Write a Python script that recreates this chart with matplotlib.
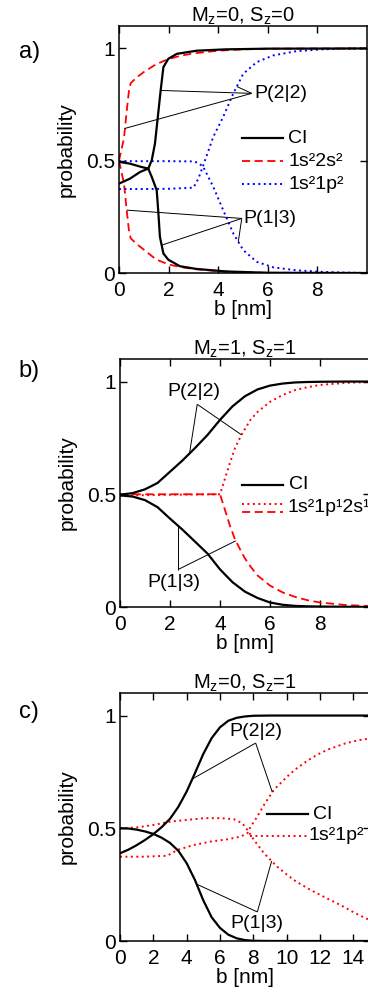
import numpy as np
import matplotlib
matplotlib.use("Agg")
import matplotlib.pyplot as plt

plt.rcParams['font.family'] = ['Liberation Sans', 'DejaVu Sans']
plt.rcParams['font.size'] = 15
plt.rcParams['mathtext.default'] = 'regular'

# ---------------- Panel a: Mz=0, Sz=0 ----------------
a_title = "M$_z$=0, S$_z$=0"
a_ci_up_x = [0, 0.44, 0.85, 1.18, 1.32, 1.45, 1.58, 1.68, 1.79, 1.99, 2.33, 3.13, 4.3, 6.0, 10.0]
a_ci_up_y = [0.398, 0.42, 0.45, 0.465, 0.502, 0.576, 0.71, 0.813, 0.917, 0.954, 0.976, 0.99, 0.996, 0.999, 1.0]
a_ci_lo_x = [0, 0.44, 0.91, 1.18, 1.32, 1.52, 1.58, 1.65, 1.79, 1.99, 2.46, 3.13, 4.3, 6.0, 10.0]
a_ci_lo_y = [0.495, 0.487, 0.472, 0.465, 0.428, 0.369, 0.28, 0.161, 0.087, 0.059, 0.03, 0.018, 0.007, 0.001, 0.0]
a_s2_up_x = [0, 0.1, 0.2, 0.3, 0.4, 0.47, 0.7, 1.0, 1.5, 2.0, 2.5, 3.0, 4.0, 5.0, 6.0, 10.0]
a_s2_up_y = [0.5, 0.55, 0.6, 0.71, 0.81, 0.845, 0.87, 0.895, 0.93, 0.953, 0.968, 0.978, 0.99, 0.996, 0.999, 1.0]
a_s2_lo_x = [0, 0.1, 0.2, 0.3, 0.4, 0.47, 0.7, 1.0, 1.5, 2.0, 2.5, 3.0, 4.0, 5.0, 6.0, 10.0]
a_s2_lo_y = [0.5, 0.45, 0.4, 0.29, 0.19, 0.155, 0.13, 0.104, 0.06, 0.038, 0.026, 0.018, 0.008, 0.003, 0.001, 0.0]
a_p2_up_x = [0, 1.0, 2.0, 3.0, 3.2, 3.4, 3.8, 4.2, 4.61, 5.01, 5.55, 6.22, 7.16, 8.2, 9.0, 10.0]
a_p2_up_y = [0.374, 0.374, 0.375, 0.38, 0.42, 0.48, 0.606, 0.695, 0.8, 0.887, 0.939, 0.969, 0.988, 0.996, 0.999, 1.0]
a_p2_lo_x = [0, 1.0, 2.0, 3.0, 3.2, 3.4, 3.8, 4.2, 4.61, 5.01, 5.55, 6.22, 7.16, 8.2, 9.0, 10.0]
a_p2_lo_y = [0.498, 0.498, 0.498, 0.497, 0.49, 0.472, 0.384, 0.28, 0.176, 0.102, 0.05, 0.025, 0.012, 0.005, 0.002, 0.0]
a_ann22 = (5.35, 0.80)
a_ann22_targets = [("ci_up", 1.68), ("s2_up", 0.24), ("p2_up", 4.75)]
a_ann13 = (4.95, 0.243)
a_ann13_targets = [("s2_lo", 0.31), ("ci_lo", 1.72), ("p2_lo", 4.81)]

# ---------------- Panel b: Mz=1, Sz=1 ----------------
b_title = "M$_z$=1, S$_z$=1"
b_ci_up_x = [0, 0.5, 1.0, 1.5, 2.0, 2.5, 3.0, 3.5, 4.0, 4.5, 5.0, 5.5, 6.0, 6.5, 7.0, 7.5, 8.0, 9.0, 10.0]
b_ci_up_y = [0.498, 0.505, 0.522, 0.55, 0.6, 0.65, 0.705, 0.763, 0.83, 0.89, 0.935, 0.965, 0.982, 0.991, 0.996, 0.998, 0.999, 1.0, 1.0]
b_ci_lo_x = [0, 0.5, 1.0, 1.5, 2.0, 2.5, 3.0, 3.5, 4.0, 4.5, 5.0, 5.5, 6.0, 6.5, 7.0, 7.5, 8.0, 9.0, 10.0]
b_ci_lo_y = [0.495, 0.49, 0.474, 0.443, 0.392, 0.343, 0.29, 0.237, 0.167, 0.11, 0.068, 0.04, 0.02, 0.01, 0.005, 0.003, 0.002, 0.001, 0.0]
b_dot_x = [0, 1.0, 2.0, 3.0, 4.0, 4.2, 4.4, 4.6, 4.83, 5.0, 5.23, 5.5, 6.0, 6.5, 7.0, 7.5, 8.0, 9.0, 10.0]
b_dot_y = [0.494, 0.496, 0.498, 0.499, 0.5, 0.57, 0.64, 0.705, 0.758, 0.79, 0.832, 0.865, 0.91, 0.94, 0.962, 0.975, 0.985, 0.994, 0.998]
b_dash_x = [0, 1.0, 2.0, 3.0, 4.0, 4.2, 4.4, 4.6, 4.83, 5.0, 5.23, 5.5, 6.0, 6.5, 7.0, 7.5, 8.0, 9.0, 10.0]
b_dash_y = [0.5, 0.5, 0.5, 0.5, 0.5, 0.43, 0.36, 0.30, 0.25, 0.215, 0.178, 0.14, 0.095, 0.065, 0.045, 0.03, 0.02, 0.009, 0.004]
b_ann22 = (3.09, 0.899)
b_ann22_targets = [("ci_up", 2.78), ("dot", 4.86)]
b_ann13 = (2.32, 0.166)
b_ann13_targets = [("ci_lo", 2.32), ("dash", 4.63)]

# ---------------- Panel c: Mz=0, Sz=1 ----------------
c_title = "M$_z$=0, S$_z$=1"
c_ci_up_x = [0, 0.5, 1.0, 1.5, 2.0, 2.5, 3.0, 3.5, 4.0, 4.5, 5.0, 5.5, 6.0, 6.5, 7.0, 7.5, 8.0, 9.0, 15.0]
c_ci_up_y = [0.389, 0.405, 0.425, 0.448, 0.474, 0.505, 0.542, 0.595, 0.663, 0.745, 0.83, 0.9, 0.948, 0.977, 0.99, 0.996, 0.999, 1.0, 1.0]
c_ci_lo_x = [0, 0.5, 1.0, 1.5, 2.0, 2.5, 3.0, 3.5, 4.0, 4.5, 5.0, 5.5, 6.0, 6.5, 7.0, 7.5, 8.0, 9.0, 15.0]
c_ci_lo_y = [0.5, 0.499, 0.494, 0.486, 0.475, 0.458, 0.435, 0.4, 0.345, 0.27, 0.18, 0.105, 0.058, 0.028, 0.012, 0.004, 0.001, 0.0, 0.0]
c_pA_x = [0, 1.04, 2.04, 3.04, 4.04, 5.04, 6.04, 6.84, 7.34, 7.64, 8.04, 8.64, 9.44, 10.0, 10.44, 11.0, 11.44, 12.0, 12.44, 13.0, 13.44, 14.0, 14.24, 15.0]
c_pA_y = [0.5, 0.504, 0.515, 0.53, 0.537, 0.545, 0.545, 0.54, 0.522, 0.493, 0.448, 0.389, 0.329, 0.295, 0.27, 0.245, 0.226, 0.205, 0.188, 0.168, 0.151, 0.128, 0.119, 0.092]
c_pB_x = [0, 1.44, 2.84, 3.44, 4.44, 5.44, 6.44, 7.24, 7.64, 7.84, 8.24, 8.64, 9.24, 10.04, 10.5, 11.04, 11.5, 12.04, 12.5, 13.04, 13.5, 14.04, 14.5, 15.0]
c_pB_y = [0.374, 0.374, 0.378, 0.404, 0.426, 0.441, 0.451, 0.463, 0.478, 0.507, 0.552, 0.604, 0.671, 0.73, 0.76, 0.789, 0.812, 0.834, 0.85, 0.864, 0.876, 0.886, 0.893, 0.898]
c_ann22 = (8.14, 0.878)
c_ann22_targets = [("ci_up", 4.34), ("pB", 9.14)]
c_ann13 = (8.24, 0.129)
c_ann13_targets = [("ci_lo", 4.6), ("pA", 9.1)]

W, H = 368, 996
fig = plt.figure(figsize=(W / 100, H / 100), dpi=100)

FS_TICK = 15
FS_LAB = 15
FS_TITLE = 14.5
FS_LEG = 14
FS_ANN = 14


def make_axes(left_px, top_px, bottom_px, right_px):
    return fig.add_axes([left_px / W, 1 - bottom_px / H,
                         (right_px - left_px) / W, (bottom_px - top_px) / H])


def style(ax, xmax, xticks, title, letter, letter_y):
    ax.set_xlim(0, xmax)
    ax.set_ylim(0, 1.1)
    ax.set_xticks(xticks)
    ax.set_xticklabels([str(t) for t in xticks])
    ax.set_yticks([0, 0.5, 1])
    ax.set_yticklabels(['0', '0.5', '1'])
    ax.tick_params(direction='in', top=True, right=True, length=5, width=1,
                   labelsize=FS_TICK)
    ax.tick_params(axis='x', pad=6)
    ax.tick_params(axis='y', pad=3)
    for s in ax.spines.values():
        s.set_linewidth(1.1)
    ax.set_xlabel('b [nm]', fontsize=FS_LAB, labelpad=0)
    ax.set_ylabel('probability', fontsize=FS_LAB, labelpad=7.5)
    ax.set_title(title, fontsize=FS_TITLE, pad=3)
    ax.text(-0.405, letter_y, letter, transform=ax.transAxes, fontsize=17,
            ha='left', va='center')


def annotate(ax, anchor, targets, curves):
    for name, xt in targets:
        cx, cy = curves[name]
        yt = np.interp(xt, cx, cy)
        ax.plot([anchor[0], xt], [anchor[1], yt], color='black', lw=0.7,
                solid_capstyle='butt')


def legend_line(ax, x0, x1, y, **kw):
    ax.plot([x0, x1], [y, y], transform=ax.transAxes, clip_on=False, **kw)


DASH = dict(color='red', lw=1.3, linestyle=(0, (4.5, 2.5)))
DOT_B = dict(color='blue', lw=1.4, linestyle=(0, (1, 1.8)))
DOT_R = dict(color='red', lw=1.4, linestyle=(0, (1, 1.8)))
CI = dict(color='black', lw=1.6)

# ---- a ----
axa = make_axes(119, 26, 273, 367)
style(axa, 10, [0, 2, 4, 6, 8], a_title, 'a)', 0.895)
axa.plot(a_s2_up_x, a_s2_up_y, **DASH)
axa.plot(a_s2_lo_x, a_s2_lo_y, **DASH)
axa.plot(a_p2_up_x, a_p2_up_y, **DOT_B)
axa.plot(a_p2_lo_x, a_p2_lo_y, **DOT_B)
axa.plot(a_ci_up_x, a_ci_up_y, **CI)
axa.plot(a_ci_lo_x, a_ci_lo_y, **CI)
ca = {"ci_up": (a_ci_up_x, a_ci_up_y), "ci_lo": (a_ci_lo_x, a_ci_lo_y),
      "s2_up": (a_s2_up_x, a_s2_up_y), "s2_lo": (a_s2_lo_x, a_s2_lo_y),
      "p2_up": (a_p2_up_x, a_p2_up_y), "p2_lo": (a_p2_lo_x, a_p2_lo_y)}
annotate(axa, a_ann22, a_ann22_targets, ca)
annotate(axa, a_ann13, a_ann13_targets, ca)
axa.text(a_ann22[0] + 0.1, a_ann22[1], 'P(2|2)', ha='left', va='center', fontsize=FS_ANN)
axa.text(a_ann13[0] + 0.08, a_ann13[1], 'P(1|3)', ha='left', va='center', fontsize=FS_ANN)
lx0, lx1, tx = (242 - 119) / 248, (283 - 119) / 248, (288 - 119) / 248
legend_line(axa, lx0, lx1, 0.601 / 1.1, **CI)
axa.text(tx, 0.601 / 1.1, 'CI', transform=axa.transAxes, ha='left', va='center', fontsize=FS_LEG)
legend_line(axa, lx0, lx1, 0.498 / 1.1, **DASH)
axa.text(tx, 0.498 / 1.1, '1s²2s²', transform=axa.transAxes, ha='left', va='center', fontsize=FS_LEG)
legend_line(axa, lx0, lx1, 0.396 / 1.1, **DOT_B)
axa.text(tx, 0.396 / 1.1, '1s²1p²', transform=axa.transAxes, ha='left', va='center', fontsize=FS_LEG)

# ---- b ----
axb = make_axes(120, 359, 607, 370)
style(axb, 10, [0, 2, 4, 6, 8], b_title, 'b)', 0.95)
axb.plot(b_dot_x, b_dot_y, **DOT_R)
axb.plot(b_dash_x, b_dash_y, **DASH)
axb.plot(b_ci_up_x, b_ci_up_y, **CI)
axb.plot(b_ci_lo_x, b_ci_lo_y, **CI)
cb = {"ci_up": (b_ci_up_x, b_ci_up_y), "ci_lo": (b_ci_lo_x, b_ci_lo_y),
      "dot": (b_dot_x, b_dot_y), "dash": (b_dash_x, b_dash_y)}
annotate(axb, b_ann22, b_ann22_targets, cb)
annotate(axb, b_ann13, b_ann13_targets, cb)
axb.text(b_ann22[0] - 0.15, b_ann22[1] + 0.02, 'P(2|2)', ha='center', va='bottom', fontsize=FS_ANN)
axb.text(b_ann13[0] - 0.15, b_ann13[1] - 0.02, 'P(1|3)', ha='center', va='top', fontsize=FS_ANN)
lx0, lx1, tx = (242 - 120) / 250, (283 - 120) / 250, (289 - 120) / 250
legend_line(axb, lx0, lx1, 0.542 / 1.1, **CI)
axb.text(tx, 0.542 / 1.1, 'CI', transform=axb.transAxes, ha='left', va='center', fontsize=FS_LEG)
legend_line(axb, lx0, lx1, 0.456 / 1.1, **DOT_R)
legend_line(axb, lx0, lx1, 0.423 / 1.1, **DASH)
axb.text((287 - 120) / 250, 0.44 / 1.1, '1s²1p¹2s¹', transform=axb.transAxes, ha='left', va='center', fontsize=FS_LEG)

# ---- c ----
axc = make_axes(120, 693, 941, 370)
style(axc, 15, [0, 2, 4, 6, 8, 10, 12, 14], c_title, 'c)', 0.923)
axc.plot(c_pA_x, c_pA_y, **DOT_R)
axc.plot(c_pB_x, c_pB_y, **DOT_R)
axc.plot(c_ci_up_x, c_ci_up_y, **CI)
axc.plot(c_ci_lo_x, c_ci_lo_y, **CI)
cc = {"ci_up": (c_ci_up_x, c_ci_up_y), "ci_lo": (c_ci_lo_x, c_ci_lo_y),
      "pA": (c_pA_x, c_pA_y), "pB": (c_pB_x, c_pB_y)}
annotate(axc, c_ann22, c_ann22_targets, cc)
annotate(axc, c_ann13, c_ann13_targets, cc)
axc.text(c_ann22[0], c_ann22[1] + 0.012, 'P(2|2)', ha='center', va='bottom', fontsize=FS_ANN)
axc.text(c_ann13[0], c_ann13[1] - 0.012, 'P(1|3)', ha='center', va='top', fontsize=FS_ANN)
legend_line(axc, (267 - 120) / 250, (308 - 120) / 250, 0.562 / 1.1, **CI)
axc.text((313 - 120) / 250, 0.562 / 1.1, 'CI', transform=axc.transAxes, ha='left', va='center', fontsize=FS_LEG)
legend_line(axc, (250 - 120) / 250, (307 - 120) / 250, 0.467 / 1.1, **DOT_R)
axc.text((308 - 120) / 250, 0.467 / 1.1, '1s²1p²', transform=axc.transAxes, ha='left', va='center', fontsize=FS_LEG)

fig.savefig('out.png', dpi=100)
